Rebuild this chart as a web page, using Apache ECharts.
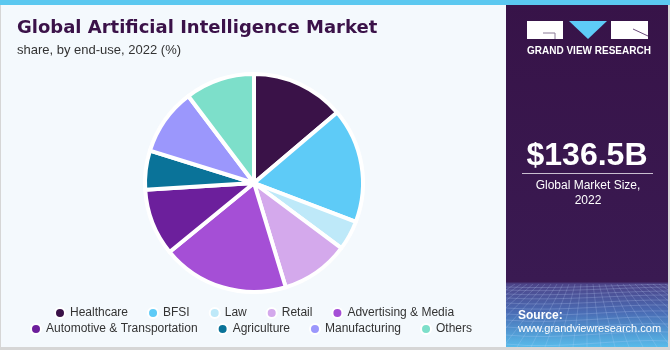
<!DOCTYPE html>
<html>
<head>
<meta charset="utf-8">
<script src="https://cdn.jsdelivr.net/npm/echarts@6/dist/echarts.min.js"></script>
<style>
  html, body { margin: 0; padding: 0; background: #ffffff; }
  #chart { width: 670px; height: 350px; }
</style>
</head>
<body>
<div id="chart"></div>
<script>
// End-use segments and their share of the 2022 market (%)
const categories = [
  'Healthcare', 'BFSI', 'Law', 'Retail', 'Advertising & Media',
  'Automotive & Transportation', 'Agriculture', 'Manufacturing', 'Others'
];
const shares = [13.8, 17.0, 4.4, 10.1, 18.8, 9.9, 5.8, 9.9, 10.3];
const sliceColors = [
  '#3a1248', '#5ecbf7', '#bee9f9', '#d4a9ec', '#a54fd6',
  '#6c1f9c', '#0a7399', '#9b97fc', '#7ddfca'
];
const legendRow1 = categories.slice(0, 5);
const legendRow2 = categories.slice(5);

const marketSize = '$136.5B';
const marketCaption = 'Global Market Size,\n2022';

const PURPLE = '#371348';
const FONT = '"Liberation Sans", Arial, sans-serif';
const HEAVY = '"DejaVu Sans", "Liberation Sans", sans-serif';

const chart = echarts.init(document.getElementById('chart'), null, { renderer: 'canvas' });

const legendBase = {
  orient: 'horizontal',
  icon: 'circle',
  padding: 0,
  itemWidth: 10,
  itemHeight: 10,
  itemGap: 19,
  textStyle: { color: '#333333', fontSize: 12, fontFamily: FONT },
  selectedMode: false
};

// faint perspective mesh in the footer of the side panel
function footerMesh() {
  const els = [];
  const x0 = 506, x1 = 668, yTop = 284, yBot = 347;
  const rows = [287, 290, 294, 298, 303, 308, 314, 320, 327, 335, 344];
  rows.forEach((y, i) => {
    const bend = 2 + i * 0.4;
    els.push({
      type: 'bezierCurve', z: -7, silent: true,
      shape: { x1: x0, y1: y, x2: x1, y2: y - 3, cpx1: 560, cpy1: y + bend, cpx2: 620, cpy2: y - bend },
      style: { stroke: 'rgba(200,220,255,0.22)', lineWidth: 1, fill: null }
    });
  });
  for (let k = -12; k <= 14; k++) {
    const xb = 587 + k * 14;
    const xt = 587 + k * 6;
    els.push({
      type: 'line', z: -7, silent: true,
      shape: { x1: xt, y1: yTop, x2: xb, y2: yBot },
      style: { stroke: 'rgba(200,220,255,0.2)', lineWidth: 1 }
    });
  }
  return {
    type: 'group', z: -7,
    clipPath: { type: 'rect', shape: { x: x0, y: yTop, width: x1 - x0, height: yBot - yTop } },
    children: els
  };
}

chart.setOption({
  backgroundColor: '#ffffff',
  animation: false,
  color: sliceColors,
  title: [
    {
      text: 'Global Artificial Intelligence Market',
      left: 17, top: 19, padding: 0,
      textStyle: { color: '#3b1249', fontSize: 18, fontWeight: 'bold', fontFamily: HEAVY }
    },
    {
      text: 'share, by end-use, 2022 (%)',
      left: 17, top: 44, padding: 0,
      textStyle: { color: '#333333', fontSize: 13, fontWeight: 'normal', fontFamily: FONT }
    }
  ],
  legend: [
    Object.assign({}, legendBase, { data: legendRow1, left: 54, top: 307 }),
    Object.assign({}, legendBase, { data: legendRow2, left: 30, top: 323 })
  ],
  graphic: [
    // light chart panel with thin grey frame
    { type: 'rect', z: -10, shape: { x: 0, y: 0, width: 670, height: 350 },
      style: { fill: '#d6d6d6' } },
    { type: 'rect', z: -9, shape: { x: 1, y: 0, width: 505, height: 347 },
      style: { fill: '#f4f9fd' } },
    // dark side panel
    { type: 'rect', z: -9, shape: { x: 506, y: 0, width: 162, height: 347 },
      style: {
        fill: new echarts.graphic.LinearGradient(0, 0, 0, 1, [
          { offset: 0, color: PURPLE },
          { offset: 0.812, color: '#3a1a52' },
          { offset: 0.818, color: '#4d4488' },
          { offset: 0.9, color: '#4a6cb4' },
          { offset: 1, color: '#58bbea' }
        ])
      } },
    footerMesh(),
    // top accent strip
    { type: 'rect', z: -6, shape: { x: 0, y: 0, width: 670, height: 5 },
      style: { fill: '#5bc8f0' } },
    // logo blocks
    { type: 'rect', z: 5, shape: { x: 527, y: 21, width: 36, height: 18 }, style: { fill: '#ffffff' } },
    { type: 'polyline', z: 6, shape: { points: [[543, 33], [555, 33], [555, 39]] },
      style: { stroke: '#8a7a96', lineWidth: 1, fill: null } },
    { type: 'polygon', z: 5, shape: { points: [[569, 21], [607, 21], [588, 39]] }, style: { fill: '#5ecbf7' } },
    { type: 'rect', z: 5, shape: { x: 611, y: 21, width: 37, height: 18 }, style: { fill: '#ffffff' } },
    { type: 'line', z: 6, shape: { x1: 633, y1: 29, x2: 648, y2: 36 },
      style: { stroke: '#6a4a7a', lineWidth: 1 } },
    { type: 'text', z: 5, left: 527, top: 46,
      style: { text: 'GRAND VIEW RESEARCH', fill: '#ffffff', font: 'bold 10px ' + FONT, textAlign: 'left' } },
    // market size callout
    { type: 'text', z: 5, x: 587, y: 156,
      style: { text: marketSize, fill: '#ffffff', font: 'bold 32px ' + FONT,
               textAlign: 'center', textVerticalAlign: 'middle' } },
    { type: 'line', z: 5, shape: { x1: 522, y1: 173.5, x2: 653, y2: 173.5 },
      style: { stroke: '#c9bfd0', lineWidth: 1 } },
    { type: 'text', z: 5, x: 588, y: 193,
      style: { text: marketCaption, fill: '#ffffff', font: '12px ' + FONT,
               textAlign: 'center', textVerticalAlign: 'middle', lineHeight: 15 } },
    // source note
    { type: 'text', z: 5, left: 518, top: 310,
      style: { text: 'Source:', fill: '#ffffff', font: 'bold 12px ' + FONT } },
    { type: 'text', z: 5, left: 518, top: 323,
      style: { text: 'www.grandviewresearch.com', fill: '#ffffff', font: '11px ' + FONT } }
  ],
  series: [
    {
      type: 'pie',
      center: [254, 183],
      radius: [0, 109],
      startAngle: 90,
      clockwise: true,
      label: { show: false },
      labelLine: { show: false },
      emphasis: { disabled: true },
      itemStyle: { borderColor: '#ffffff', borderWidth: 4 },
      data: categories.map((name, i) => ({ name, value: shares[i] }))
    }
  ]
});
</script>
</body>
</html>
